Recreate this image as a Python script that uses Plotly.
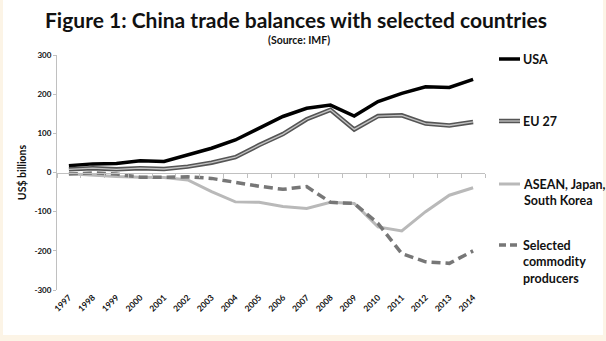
import plotly.graph_objects as go

years = [str(y) for y in range(1997, 2015)]
usa = [17, 22, 23, 30, 28, 45, 62, 83, 113, 143, 164, 172, 144, 181, 202, 219, 217, 238]
eu27 = [8, 11, 8, 11, 9, 15, 25, 39, 70, 98, 136, 160, 110, 144, 146, 125, 120, 129]
asean_jp_kr = [-3, -7, -10, -12, -13, -19, -49, -75, -76, -87, -92, -76, -79, -139, -149, -100, -58, -39]
commodity = [-4, -1, -4, -12, -12, -11, -15, -26, -35, -43, -36, -76, -79, -130, -207, -228, -232, -200]

ytick_vals = [300, 200, 100, 0, -100, -200, -300]
ytick_text = ["300", "200", "100", "0", "-100", "-200", "-300"]

title_text = "Figure 1: China trade balances with selected countries"
subtitle_text = "(Source: IMF)"
ytitle = "US$ billions"
legend_names = ["USA", "EU 27", "ASEAN, Japan,<br>South Korea", "Selected<br>commodity<br>producers"]

FONT = "Lato"
CREAM = "#fcf4e6"

# page geometry (pixels) -> margins
W, H = 606, 341
L, R, T, B = 57, 485, 55, 290
pw, ph = R - L, B - T

def px(x):
    return (x - L) / pw

def py(y):
    return (B - y) / ph

fig = go.Figure()

fig.add_trace(go.Scatter(x=years, y=usa, mode="lines", line=dict(color="#000000", width=3.5),
                         showlegend=False, hoverinfo="skip"))
fig.add_trace(go.Scatter(x=years, y=eu27, mode="lines", line=dict(color="#555555", width=4.5),
                         showlegend=False, hoverinfo="skip"))
fig.add_trace(go.Scatter(x=years, y=eu27, mode="lines", line=dict(color="#c4c4c4", width=1.3),
                         showlegend=False, hoverinfo="skip"))
fig.add_trace(go.Scatter(x=years, y=asean_jp_kr, mode="lines", line=dict(color="#b9b9b9", width=3),
                         showlegend=False, hoverinfo="skip"))
fig.add_trace(go.Scatter(x=years, y=commodity, mode="lines",
                         line=dict(color="#777777", width=3.5, dash="9px,5px"),
                         showlegend=False, hoverinfo="skip"))
# invisible trace to materialise the zero-line category axis
fig.add_trace(go.Scatter(x=years, y=usa, xaxis="x2", mode="lines", opacity=0,
                         showlegend=False, hoverinfo="skip"))

shapes = [
    dict(type="rect", xref="paper", yref="paper", x0=px(3), x1=px(603), y0=py(335), y1=py(0),
         fillcolor="white", line=dict(width=0), layer="below"),
]

# legend samples (manual legend)
leg_x0, leg_x1, leg_tx = px(499), px(520), px(521)
leg_y = [59, 121, 184, 245]
shapes += [
    dict(type="line", xref="paper", yref="paper", x0=leg_x0, x1=leg_x1, y0=py(leg_y[0]), y1=py(leg_y[0]),
         line=dict(color="#000000", width=3.5)),
    dict(type="line", xref="paper", yref="paper", x0=leg_x0, x1=leg_x1, y0=py(leg_y[1]), y1=py(leg_y[1]),
         line=dict(color="#555555", width=4.5)),
    dict(type="line", xref="paper", yref="paper", x0=leg_x0, x1=leg_x1, y0=py(leg_y[1]), y1=py(leg_y[1]),
         line=dict(color="#c4c4c4", width=1.3)),
    dict(type="line", xref="paper", yref="paper", x0=leg_x0, x1=leg_x1, y0=py(leg_y[2]), y1=py(leg_y[2]),
         line=dict(color="#b9b9b9", width=3)),
    dict(type="line", xref="paper", yref="paper", x0=leg_x0, x1=leg_x1, y0=py(leg_y[3]), y1=py(leg_y[3]),
         line=dict(color="#777777", width=3.5, dash="7px,4px")),
]

annotations = [
    dict(text=title_text, xref="paper", yref="paper", x=px(296), y=py(19), showarrow=False,
         xanchor="center", yanchor="middle", font=dict(family=FONT, size=21, color="#111111", weight="bold")),
    dict(text=subtitle_text, xref="paper", yref="paper", x=px(299), y=py(40), showarrow=False,
         xanchor="center", yanchor="middle", font=dict(family=FONT, size=10.5, color="#111111", weight="bold")),
]
for name, yy in zip(legend_names, leg_y):
    annotations.append(dict(text=name, xref="paper", yref="paper", x=leg_tx, y=py(yy - 9), showarrow=False,
                            xanchor="left", yanchor="top", align="left",
                            font=dict(family=FONT, size=12.5, color="#111111", weight="bold")))

fig.update_layout(
    width=W, height=H,
    margin=dict(l=L, r=W - R, t=T, b=H - B, pad=0),
    paper_bgcolor=CREAM,
    plot_bgcolor="rgba(0,0,0,0)",
    font=dict(family=FONT, color="#111111"),
    shapes=shapes,
    annotations=annotations,
    xaxis=dict(type="category", showgrid=False, showline=False, zeroline=False, ticks="",
               tickangle=-45, tickfont=dict(family=FONT, size=8.5, color="#111111", weight="bold"),
               range=[-0.5, len(years) - 0.5], fixedrange=True),
    xaxis2=dict(type="category", overlaying="x", matches="x", anchor="free", position=0.5, side="bottom",
                showline=True, linecolor="#c0c0c0", linewidth=1, ticks="outside", tickson="boundaries",
                ticklen=4, tickcolor="#c0c0c0", showticklabels=False, showgrid=False, zeroline=False),
    yaxis=dict(range=[-300, 300], tickvals=ytick_vals, ticktext=ytick_text, showgrid=False, zeroline=False,
               showline=True, linecolor="#c0c0c0", linewidth=1, ticks="outside", ticklen=3, tickcolor="#c0c0c0",
               tickfont=dict(family=FONT, size=8, color="#111111", weight="bold"),
               title=dict(text=ytitle, standoff=5, font=dict(family=FONT, size=10.5, color="#111111", weight="bold")),
               fixedrange=True),
)

fig.write_html("out.html")
